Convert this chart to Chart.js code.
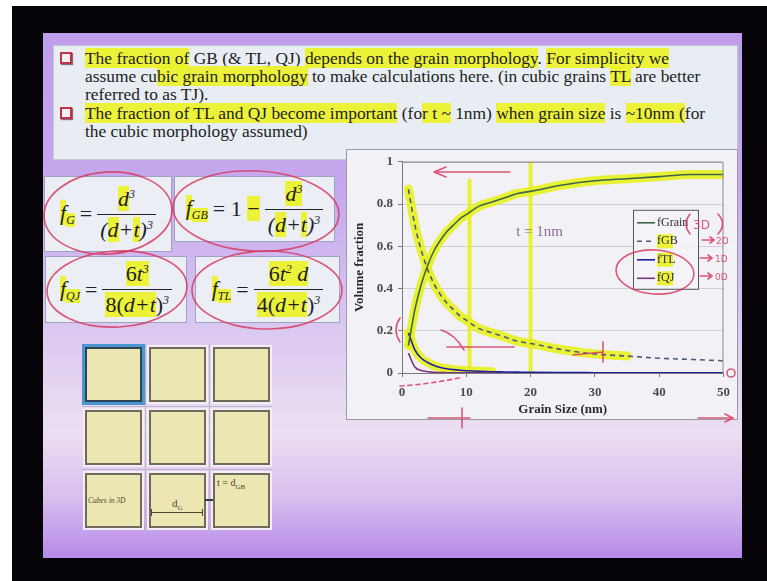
<!DOCTYPE html>
<html>
<head>
<meta charset="utf-8">
<title>Volume fraction vs grain size</title>
<script src="https://cdn.jsdelivr.net/npm/chart.js@4.4.1/dist/chart.umd.min.js"></script>
<style>
  html, body { margin: 0; padding: 0; }
  body { width: 767px; height: 581px; background: #050308; position: relative; overflow: hidden;
         font-family: "Liberation Serif", "Times New Roman", serif; }
  .abs { position: absolute; }
  #slide { left: 43px; top: 33px; width: 699px; height: 525px;
           background: linear-gradient(180deg, #bf9deb 0%, #c6a8ee 30%, #dac7f1 55%, #ecdff2 76%, #d8c0ef 88%, #b88ae8 100%); }
  #notes { left: 53px; top: 45px; width: 685px; height: 115px; background: #e7edf2; border: 1px solid #c3c9d2; box-sizing: border-box; }
  .line { position: absolute; left: 85px; white-space: nowrap; font-size: 17.4px; line-height: 18px; color: #1d1d24; }
  .bullet { position: absolute; left: 60px; width: 8px; height: 8px; border: 2px solid #c33149; background: #f6f1f2; box-shadow: 1px 1px 1px #8a6a78; }
  .hl { background: rgba(236, 242, 34, 0.9); }
  .fbox { position: absolute; background: #eceef6; border: 1px solid #9ea3c4; box-sizing: border-box;
          display: flex; align-items: center; justify-content: center; font-size: 22px; font-style: italic; color: #1e1e26; }
  .fbox sub { font-size: 12px; font-style: italic; vertical-align: -4px; }
  .fbox sup { font-size: 12px; vertical-align: 8px; }
  .eq { font-style: normal; margin: 0 5px; }
  .frac { display: inline-flex; flex-direction: column; align-items: center; }
  .frac .num { padding: 0 3px 2px; }
  .frac .den { border-top: 1.5px solid #222; padding: 2px 3px 0; }
  .cube { position: absolute; width: 53px; height: 51px; background: #ece6b3; border: 2px solid #6e6b5c;
          box-shadow: 0 0 0 2px #f3eef5; }
  .gline { position: absolute; background: #bdb7c6; }
  #chartbox { left: 346px; top: 149px; width: 392px; height: 271px; background: #f2f1f5; border: 1px solid #9c9ca6; box-sizing: border-box; }
  #plot { left: 346px; top: 149px; }
  #pen { left: 0; top: 0; pointer-events: none; }
</style>
</head>
<body>
<div class="abs" style="left:0;top:0;width:767px;height:6px;background:#fff"></div>
<div class="abs" style="left:0;top:0;width:12px;height:581px;background:#fff"></div>
<div id="slide" class="abs"></div>

<div id="notes" class="abs"></div>
<div class="bullet" style="top:52px"></div>
<div class="line" style="top:49px"><span class="hl">The fraction of</span> GB (&amp; TL, QJ) <span class="hl">depends on the grain morphology</span>. <span class="hl">For simplicity we</span></div>
<div class="line" style="top:67px">assume cu<span class="hl">bic grain morphology</span> to make calculations here. (in cubic grains <span class="hl">TL</span> are better</div>
<div class="line" style="top:85px">referred to as TJ).</div>
<div class="bullet" style="top:107px"></div>
<div class="line" style="top:104px"><span class="hl">The fraction of TL and QJ become important</span> (fo<span class="hl">r t ~</span> 1nm) <span class="hl">when grain size</span> is <span class="hl">~10nm (</span>for</div>
<div class="line" style="top:122px">the cubic morphology assumed)</div>

<!-- formula boxes -->
<div class="fbox" style="left:44px;top:176px;width:128px;height:76px">
  <span><span class="hl">f</span><sub class="hl">G</sub></span><span class="eq">=</span>
  <span class="frac"><span class="num"><span class="hl">d</span><sup>3</sup></span><span class="den">(<span class="hl">d</span>+<span class="hl">t</span>)<sup>3</sup></span></span>
</div>
<div class="fbox" style="left:174px;top:176px;width:161px;height:66px">
  <span><span class="hl">f</span><sub class="hl">GB</sub></span><span class="eq">= 1 <span class="hl">&minus;</span></span>
  <span class="frac"><span class="num"><span class="hl">d<sup>3</sup></span></span><span class="den">(<span class="hl">d</span>+<span class="hl">t</span>)<sup>3</sup></span></span>
</div>
<div class="fbox" style="left:45px;top:256px;width:142px;height:67px">
  <span><span class="hl">f</span><sub class="hl">QJ</sub></span><span class="eq">=</span>
  <span class="frac"><span class="num"><span class="hl" style="font-style:normal">6</span><span class="hl">t<sup>3</sup></span></span><span class="den"><span class="hl"><span style="font-style:normal">8(</span>d+t</span><span style="font-style:normal">)</span><sup>3</sup></span></span>
</div>
<div class="fbox" style="left:195px;top:256px;width:145px;height:67px">
  <span><span class="hl">f</span><sub class="hl">TL</sub></span><span class="eq">=</span>
  <span class="frac"><span class="num"><span class="hl"><span style="font-style:normal">6</span>t<sup>2</sup> d</span></span><span class="den"><span class="hl"><span style="font-style:normal">4(</span>d+t</span><span style="font-style:normal">)</span><sup>3</sup></span></span>
</div>

<!-- cubes in 3D -->
<div class="gline" style="left:82px;top:406px;width:190px;height:1px"></div>
<div class="gline" style="left:82px;top:469px;width:190px;height:1px"></div>
<div class="gline" style="left:145px;top:344px;width:1px;height:188px"></div>
<div class="gline" style="left:209px;top:344px;width:1px;height:188px"></div>
<div class="cube" style="left:85px;top:347px;border-color:#2f4256;box-shadow:0 0 0 3px #4a96cf"></div>
<div class="cube" style="left:149px;top:347px"></div>
<div class="cube" style="left:213px;top:347px"></div>
<div class="cube" style="left:85px;top:410px"></div>
<div class="cube" style="left:149px;top:410px"></div>
<div class="cube" style="left:213px;top:410px"></div>
<div class="cube" style="left:85px;top:473px"></div>
<div class="cube" style="left:149px;top:473px"></div>
<div class="cube" style="left:213px;top:473px"></div>
<div class="abs" style="left:88px;top:496px;font-size:7.5px;font-style:italic;color:#4a4630">Cubes in 3D</div>
<div class="abs" style="left:172px;top:497px;font-size:11px;color:#4a4630">d<sub style="font-size:7px">G</sub></div>
<div class="abs" style="left:152px;top:512px;width:50px;height:1px;background:#4a4630"></div>
<div class="abs" style="left:151px;top:509px;width:1px;height:7px;background:#4a4630"></div>
<div class="abs" style="left:202px;top:509px;width:1px;height:7px;background:#4a4630"></div>
<div class="abs" style="left:205px;top:499px;width:8px;height:2px;background:#3a3a3a"></div>
<div class="abs" style="left:217px;top:477px;font-size:10px;color:#4a4630">t = d<sub style="font-size:7px">GB</sub></div>

<!-- chart -->
<div id="chartbox" class="abs"></div>
<canvas id="plot" class="abs" width="392" height="271"></canvas>

<!-- pen strokes written over the slide -->
<svg id="pen" class="abs" width="767" height="581" fill="none" stroke="rgba(214,60,96,0.85)" stroke-width="1.6" stroke-linecap="round">
  <ellipse cx="108" cy="213" rx="64" ry="41" transform="rotate(-4 108 213)"/>
  <ellipse cx="256" cy="211" rx="83" ry="40" transform="rotate(3 256 211)"/>
  <ellipse cx="117" cy="289" rx="70" ry="38" transform="rotate(-3 117 289)"/>
  <ellipse cx="267" cy="290" rx="75" ry="39"/>
  <path d="M510 172 L434 172 M434 172 L446 167 M434 172 L446 177"/>
  <ellipse cx="655" cy="272" rx="39" ry="22" transform="rotate(4 655 272)"/>
  <path d="M690 214 Q682 224 690 234 M718 214 Q727 224 718 234"/>
  <text x="693" y="229" fill="rgba(214,60,96,0.85)" stroke="none" font-family="DejaVu Sans" font-size="12">3D</text>
  <path d="M702 240 L714 240 M710 237 L714 240 L710 243"/>
  <text x="716" y="244" fill="rgba(214,60,96,0.85)" stroke="none" font-family="DejaVu Sans" font-size="9">2D</text>
  <path d="M700 258 L712 258 M708 255 L712 258 L708 261"/>
  <text x="715" y="262" fill="rgba(214,60,96,0.85)" stroke="none" font-family="DejaVu Sans" font-size="9">1D</text>
  <path d="M700 276 L712 276 M708 273 L712 276 L708 279"/>
  <text x="715" y="280" fill="rgba(214,60,96,0.85)" stroke="none" font-family="DejaVu Sans" font-size="9">0D</text>
  <path d="M400 318 Q392 330 400 342"/>
  <path d="M441 330 Q455 334 464 350 M447 347 L514 347"/>
  <path d="M573 355 L603 352 M603 342 L603 362"/>
  <path d="M400 386 Q432 384 463 377" stroke-dasharray="4 4"/>
  <path d="M428 418 L470 418 M462 408 L462 428"/>
  <path d="M698 418 L733 418 M725 414 L733 418 L725 422"/>
  <circle cx="731" cy="373" r="4"/>
</svg>

<script>
// grain size d (nm) and volume fractions for t = 1nm, cubic grains
const grainSize = [1, 2, 3, 4, 5, 6, 7, 8, 9, 10, 12, 14, 16, 18, 20, 25, 30, 35, 40, 45, 50];
const fGrain = [0.13, 0.30, 0.42, 0.51, 0.58, 0.63, 0.67, 0.70, 0.73, 0.75, 0.79, 0.81, 0.83, 0.85, 0.86, 0.89, 0.91, 0.92, 0.93, 0.94, 0.94];
const fGB = [0.87, 0.70, 0.58, 0.49, 0.42, 0.37, 0.33, 0.30, 0.27, 0.25, 0.21, 0.19, 0.17, 0.15, 0.14, 0.11, 0.09, 0.08, 0.07, 0.064, 0.058];
const fTL = [0.19, 0.11, 0.07, 0.05, 0.035, 0.026, 0.02, 0.016, 0.013, 0.011, 0.008, 0.006, 0.005, 0.004, 0.003, 0.002, 0.0015, 0.001, 0.001, 0.001, 0.001];
const fQJ = [0.094, 0.028, 0.012, 0.006, 0.003, 0.002, 0.0015, 0.001, 0.001, 0.0006, 0.0004, 0.0003, 0.0002, 0.0001, 0.0001, 0, 0, 0, 0, 0, 0];
const seriesNames = ['fGrain', 'fGB', 'fTL', 'fQJ'];
const xTicks = [0, 10, 20, 30, 40, 50];
const yTicks = [0, 0.2, 0.4, 0.6, 0.8, 1];
const noteText = 't = 1nm';
// highlighter marks drawn over the plot
const penX = [10.5, 20];
const penTop = [0.91, 1.0];
const hlGBEnd = 38;
const hlTLEnd = 14;

const PEN = 'rgba(230, 240, 24, 0.88)';
const SERIF = 'Liberation Serif';

function pts(ys, maxX) {
  return grainSize.map((d, i) => ({ x: d, y: ys[i] })).filter(p => maxX === undefined || p.x <= maxX);
}

function penLine(data, width) {
  return { data: data, isPen: true, borderColor: PEN, borderWidth: width, pointRadius: 0,
           cubicInterpolationMode: 'monotone', borderCapStyle: 'round', borderJoinStyle: 'round', order: 5 };
}

function series(name, ys, color, dash) {
  return { label: name, data: pts(ys), borderColor: color, borderWidth: 1.6, borderDash: dash || [],
           pointRadius: 0, cubicInterpolationMode: 'monotone', order: 0 };
}

// legend box placed inside the plot, like the spreadsheet original
const insideLegend = {
  id: 'insideLegend',
  afterDraw(chart) {
    const ctx = chart.ctx, a = chart.chartArea;
    const bx = a.left + 231, by = a.top + 48, bw = 65, bh = 79;
    ctx.save();
    ctx.fillStyle = 'rgba(244,244,248,0.9)';
    ctx.fillRect(bx, by, bw, bh);
    ctx.strokeStyle = '#55555c';
    ctx.lineWidth = 1;
    ctx.strokeRect(bx + 0.5, by + 0.5, bw, bh);
    ctx.font = '12px "' + SERIF + '"';
    ctx.textBaseline = 'middle';
    chart.data.datasets.filter(ds => !ds.isPen).forEach((ds, i) => {
      const y = by + 13 + i * 18.5;
      ctx.strokeStyle = ds.borderColor;
      ctx.lineWidth = 1.6;
      ctx.setLineDash(ds.borderDash);
      ctx.beginPath();
      ctx.moveTo(bx + 4, y);
      ctx.lineTo(bx + 22, y);
      ctx.stroke();
      ctx.setLineDash([]);
      if (i > 0) {
        ctx.fillStyle = 'rgba(236,242,34,0.9)';
        ctx.fillRect(bx + 24, y - 7, 16, 14);
      }
      ctx.fillStyle = '#2a2a30';
      ctx.fillText(ds.label, bx + 24, y);
    });
    ctx.restore();
  }
};

// plot frame and the thickness note
const frameAndNote = {
  id: 'frameAndNote',
  afterDatasetsDraw(chart) {
    const ctx = chart.ctx, a = chart.chartArea;
    ctx.save();
    ctx.strokeStyle = '#8a8a92';
    ctx.lineWidth = 1;
    ctx.beginPath();
    ctx.moveTo(a.left, a.top + 0.5);
    ctx.lineTo(a.right - 0.5, a.top + 0.5);
    ctx.lineTo(a.right - 0.5, a.bottom);
    ctx.stroke();
    const xs = chart.scales.x, ys = chart.scales.y;
    ctx.font = '15px "' + SERIF + '"';
    ctx.fillStyle = '#8b6c9c';
    ctx.textAlign = 'center';
    ctx.textBaseline = 'middle';
    ctx.fillText(noteText, xs.getPixelForValue(21.4), ys.getPixelForValue(0.665));
    ctx.restore();
  }
};

const tickFont = { family: SERIF, size: 13, weight: 'bold' };

new Chart(document.getElementById('plot'), {
  type: 'line',
  data: {
    datasets: [
      series(seriesNames[0], fGrain, '#3d6646'),
      series(seriesNames[1], fGB, '#4c5b78', [5, 4]),
      series(seriesNames[2], fTL, '#1f1f9c'),
      series(seriesNames[3], fQJ, '#7c3476'),
      penLine(pts(fGrain), 9),
      penLine(pts(fGB, hlGBEnd), 9),
      penLine(pts(fTL, hlTLEnd), 9),
      penLine([{ x: penX[0], y: 0 }, { x: penX[0], y: penTop[0] }], 4),
      penLine([{ x: penX[1], y: 0 }, { x: penX[1], y: penTop[1] }], 4)
    ]
  },
  options: {
    responsive: false,
    animation: false,
    devicePixelRatio: 1,
    layout: { padding: { top: 12, right: 7, left: 0, bottom: 0 } },
    plugins: { legend: { display: false }, tooltip: { enabled: false } },
    scales: {
      x: {
        type: 'linear', min: 0, max: 50,
        afterBuildTicks: s => { s.ticks = xTicks.map(v => ({ value: v })); },
        afterFit: s => { s.height = 47; },
        grid: { drawOnChartArea: false, tickLength: 4, tickColor: '#7a7a80' },
        border: { color: '#7a7a80' },
        ticks: { font: tickFont, color: '#4a4a50', padding: 8, maxRotation: 0 },
        title: { display: true, text: 'Grain Size (nm)', font: { family: SERIF, size: 13, weight: 'bold' }, color: '#2a2a30', padding: { bottom: 3 } }
      },
      y: {
        min: 0, max: 1,
        afterBuildTicks: s => { s.ticks = yTicks.map(v => ({ value: v })); },
        afterFit: s => { s.width = 56; },
        grid: { color: '#cfcfd7', tickLength: 4, tickColor: '#7a7a80' },
        border: { color: '#7a7a80' },
        ticks: { font: tickFont, color: '#4a4a50', padding: 5, callback: v => String(+v.toFixed(1)) },
        title: { display: true, text: 'Volume fraction', font: { family: SERIF, size: 13, weight: 'bold' }, color: '#2a2a30', padding: { top: 6 } }
      }
    }
  },
  plugins: [frameAndNote, insideLegend]
});
</script>
</body>
</html>
